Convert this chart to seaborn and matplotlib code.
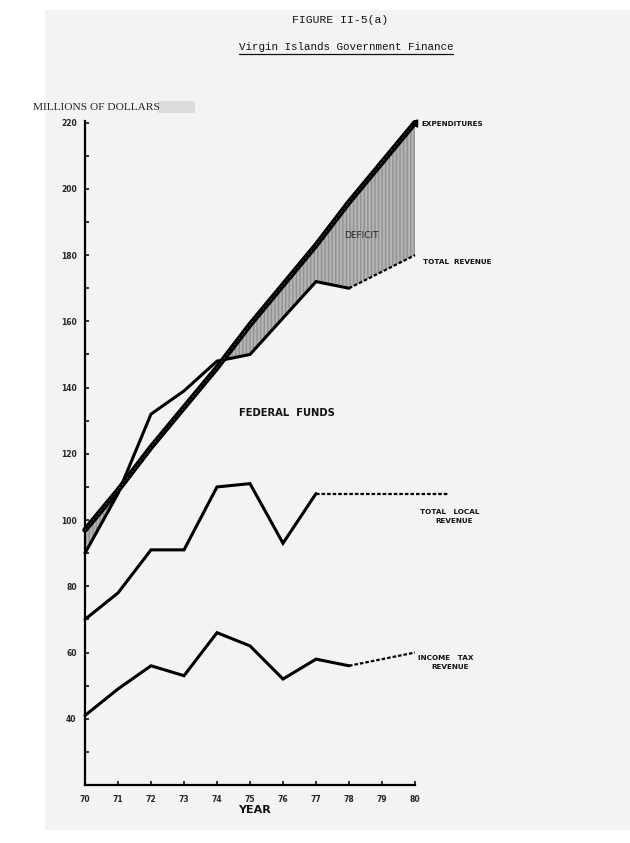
import numpy as np
import pandas as pd
import matplotlib
matplotlib.use("Agg")
import matplotlib.pyplot as plt
from matplotlib.patches import Rectangle
import seaborn as sns

# ---- data (millions of dollars) ----
years = [70, 71, 72, 73, 74, 75, 76, 77, 78, 79, 80]
expenditures = [97, 109, 122, 134, 146, 159, 171, 183, 196, 208, 220]

rev_years = [70, 71, 72, 73, 74, 75, 76, 77, 78]
total_revenue = [90, 108, 132, 139, 148, 150, 161, 172, 170]
rev_proj_years = [78, 79, 80]
total_revenue_proj = [170, 175, 180]

local_years = [70, 71, 72, 73, 74, 75, 76, 77]
total_local = [70, 78, 91, 91, 110, 111, 93, 108]
local_proj_years = [77, 81]
total_local_proj = [108, 108]

tax_years = [70, 71, 72, 73, 74, 75, 76, 77, 78]
income_tax = [41, 49, 56, 53, 66, 62, 52, 58, 56]
tax_proj_years = [78, 79, 80]
income_tax_proj = [56, 58, 60]

x_ticks = [70, 71, 72, 73, 74, 75, 76, 77, 78, 79, 80]
y_ticks = list(range(20, 221, 10))
y_labels = ["" if (v < 40 or v % 20) else str(v) for v in y_ticks]

# ---- style ----
sns.set_style("white")
plt.rcParams["font.family"] = ["DejaVu Sans"]
plt.rcParams["hatch.linewidth"] = 0.6

W, H = 630, 843
fig = plt.figure(figsize=(W / 100, H / 100), dpi=100)
fig.patch.set_facecolor("white")
# scanned page tone
fig.patches.append(Rectangle((45 / W, 1 - 830 / H), 1 - 45 / W, (830 - 10) / H,
                             transform=fig.transFigure, facecolor="#f3f3f3",
                             edgecolor="none", zorder=-2))
fig.patches.append(Rectangle((158 / W, 1 - 113 / H), 37 / W, 12 / H,
                             transform=fig.transFigure, facecolor="#dcdcdc",
                             edgecolor="none", zorder=-1))

ax = fig.add_axes([85 / W, 1 - 785 / H, 330 / W, (785 - 121) / H])
ax.set_zorder(3)
ax.set_facecolor("none")
ax.patch.set_alpha(0)
ax.set_xlim(70, 80)
ax.set_ylim(20, 220.5)

# deficit shading
exp_arr = np.array(expenditures, dtype=float)
rev_full = np.array(total_revenue + total_revenue_proj[1:], dtype=float)
ax.fill_between(years, rev_full, exp_arr, where=exp_arr >= rev_full, interpolate=True,
                facecolor="#dadada", edgecolor="#858585", hatch="|" * 12, linewidth=0,
                zorder=1)

lw = 2.2
# expenditures (thick line with faint lighter core)
sns.lineplot(x=years, y=expenditures, ax=ax, color="black", lw=4.0, zorder=5)
sns.lineplot(x=years, y=expenditures, ax=ax, color="#6a6a6a", lw=0.5,
             linestyle=(0, (2, 4)), zorder=6)
ax.plot([years[-1]], [expenditures[-1]], marker=(3, 0, -30), color="black",
        markersize=6, zorder=6, clip_on=False)

sns.lineplot(x=rev_years, y=total_revenue, ax=ax, color="black", lw=lw, zorder=4)
sns.lineplot(x=rev_proj_years, y=total_revenue_proj, ax=ax, color="black", lw=1.6,
             linestyle=(0, (1.6, 0.9)), zorder=4)

sns.lineplot(x=local_years, y=total_local, ax=ax, color="black", lw=lw, zorder=4)
sns.lineplot(x=local_proj_years, y=total_local_proj, ax=ax, color="black", lw=1.6,
             linestyle=(0, (1.6, 0.9)), zorder=4)

sns.lineplot(x=tax_years, y=income_tax, ax=ax, color="black", lw=lw, zorder=4)
sns.lineplot(x=tax_proj_years, y=income_tax_proj, ax=ax, color="black", lw=1.6,
             linestyle=(0, (1.6, 0.9)), zorder=4)
for ln in ax.lines:
    ln.set_clip_on(False)
    ln.set_solid_joinstyle("miter")

# axes styling
for s in ["top", "right"]:
    ax.spines[s].set_visible(False)
for s in ["left", "bottom"]:
    ax.spines[s].set_color("black")
    ax.spines[s].set_linewidth(1.6)
ax.set_xticks(x_ticks)
ax.set_xticklabels([str(v) for v in x_ticks], fontsize=5.5, fontweight="bold")
ax.set_yticks(y_ticks)
ax.set_yticklabels(y_labels, fontsize=5.5, fontweight="bold")
ax.tick_params(axis="both", direction="in", length=3, width=1.1, color="black",
               bottom=True, left=True)
ax.tick_params(axis="x", pad=7)
ax.tick_params(axis="y", pad=6)
ax.set_xlabel("")
ax.set_ylabel("")

# ---- texts ----
def ftext(x, y, s, **kw):
    fig.text(x / W, 1 - y / H, s, **kw)

ftext(340, 20, "FIGURE II-5(a)", family="Liberation Mono", fontsize=8.2,
      ha="center", va="center", color="#111111")
ftext(346, 47, "Virgin Islands Government Finance", family="Liberation Mono",
      fontsize=7.8, ha="center", va="center", color="#111111")
fig.lines.append(plt.Line2D([239 / W, 453 / W], [1 - 54 / H, 1 - 54 / H],
                            transform=fig.transFigure, color="#111111", lw=0.9))
ftext(33, 107, "MILLIONS OF DOLLARS", family="Liberation Serif", fontsize=8.2,
      ha="left", va="center", color="#222222")

lab = dict(fontsize=5.2, fontweight="bold", color="#111111", va="center")
ftext(421, 124, "EXPENDITURES", ha="left", **lab)
ftext(423, 262, "TOTAL  REVENUE", ha="left", **lab)
ftext(361, 235, "DEFICIT", ha="center", fontsize=6.5, color="#222222", va="center",
      zorder=10)
ftext(287, 413, "FEDERAL  FUNDS", ha="center", fontsize=7.2, fontweight="bold",
      color="#111111", va="center")
ftext(450, 512, "TOTAL   LOCAL", ha="center", **lab)
ftext(454, 521, "REVENUE", ha="center", **lab)
ftext(446, 658, "INCOME   TAX", ha="center", **lab)
ftext(450, 667, "REVENUE", ha="center", **lab)
ftext(254, 810, "YEAR", ha="center", fontsize=8, fontweight="bold", color="#111111",
      va="center")

fig.savefig("out.png", dpi=100, facecolor=fig.get_facecolor())
